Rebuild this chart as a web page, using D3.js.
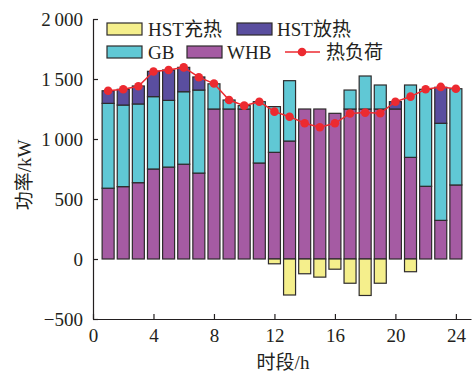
<!DOCTYPE html>
<html>
<head>
<meta charset="utf-8">
<script src="https://cdn.jsdelivr.net/npm/d3@7"></script>
<style>
  html, body { margin: 0; padding: 0; background: #fff; }
  svg text { font-family: "Liberation Serif", "Times New Roman", "Noto Sans CJK SC", serif; fill: #231f20; }
</style>
</head>
<body>
<svg id="chart" width="473" height="374"></svg>
<script>
// Hourly heat balance (kW)
const hours = d3.range(1, 25);
const whb = [590, 603, 636, 750, 766, 790, 716, 1250, 1250, 1250, 800, 889, 983, 1250, 1250, 1214, 1250, 1250, 1250, 1250, 847, 606, 322, 617];
const gb = [707, 680, 656, 603, 556, 604, 692, 210, 75, 28, 511, 381, 503, 0, 0, 0, 158, 275, 200, 0, 603, 808, 809, 802];
const hstDischarge = [105, 131, 150, 211, 253, 203, 109, 0, 0, 0, 0, 0, 0, 0, 0, 0, 0, 0, 0, 61, 0, 0, 300, 0];
const hstCharge = [0, 0, 0, 0, 0, 0, 0, 0, 0, 0, 0, -40, -300, -123, -151, -85, -202, -304, -202, 0, -106, 0, 0, 0];
const heatLoad = [1402, 1414, 1440, 1562, 1575, 1597, 1515, 1462, 1325, 1278, 1311, 1228, 1186, 1131, 1098, 1131, 1212, 1220, 1214, 1311, 1353, 1414, 1434, 1419];
const xTicks = [0, 4, 8, 12, 16, 20, 24];
const yTicks = [-500, 0, 500, 1000, 1500, 2000];
const yTickLabels = ["\u2212500", "0", "500", "1\u2009000", "1\u2009500", "2\u2009000"];

const colors = {
  charge: "#f5ef8c",
  discharge: "#5a4e9f",
  gb: "#60c8d5",
  whb: "#a55ba3",
  load: "#ec2a30",
  stroke: "#2e2b2c"
};

const svg = d3.select("#chart");
const x = d3.scaleLinear().domain([0, 25]).range([93, 471]);
const y = d3.scaleLinear().domain([-500, 2000]).range([319, 19]);
const barW = 12;

// Stacked segments per hour
const segments = [];
hours.forEach((h, i) => {
  segments.push({ h, y0: 0, y1: whb[i], c: colors.whb });
  if (gb[i] > 0) segments.push({ h, y0: whb[i], y1: whb[i] + gb[i], c: colors.gb });
  if (hstDischarge[i] > 0) segments.push({ h, y0: whb[i] + gb[i], y1: whb[i] + gb[i] + hstDischarge[i], c: colors.discharge });
  if (hstCharge[i] < 0) segments.push({ h, y0: hstCharge[i], y1: 0, c: colors.charge });
});

svg.append("g").selectAll("rect").data(segments).join("rect")
  .attr("x", d => x(d.h) - barW / 2)
  .attr("width", barW)
  .attr("y", d => y(Math.max(d.y0, d.y1)))
  .attr("height", d => Math.abs(y(d.y0) - y(d.y1)))
  .attr("fill", d => d.c)
  .attr("stroke", colors.stroke)
  .attr("stroke-width", 1.2);

// Axes (ticks point inward)
const xAxis = d3.axisBottom(x).tickValues(xTicks).tickSizeInner(-5).tickSizeOuter(0).tickPadding(10);
const gx = svg.append("g").attr("transform", `translate(0,${y(-500)})`).call(xAxis);
const yAxis = d3.axisLeft(y).tickValues(yTicks).tickSizeInner(-5).tickSizeOuter(0).tickPadding(10)
  .tickFormat((d, i) => yTickLabels[i]);
const gy = svg.append("g").attr("transform", `translate(${x(0)},0)`).call(yAxis);
[gx, gy].forEach(g => {
  g.select(".domain").attr("stroke", "#231f20").attr("stroke-width", 1.2);
  g.selectAll(".tick line").attr("stroke", "#231f20").attr("stroke-width", 1.2);
  g.selectAll(".tick text").attr("font-size", 19).attr("fill", "#231f20")
    .attr("font-family", "Liberation Serif, Times New Roman, serif");
});

// Heat load line
const line = d3.line().x((d, i) => x(hours[i])).y(d => y(d));
svg.append("path").datum(heatLoad)
  .attr("d", line).attr("fill", "none")
  .attr("stroke", colors.load).attr("stroke-width", 1.5);
svg.append("g").selectAll("circle").data(heatLoad).join("circle")
  .attr("cx", (d, i) => x(hours[i])).attr("cy", d => y(d))
  .attr("r", 4.3).attr("fill", colors.load);

// Axis titles
svg.append("text").attr("x", 283).attr("y", 369).attr("text-anchor", "middle")
  .attr("font-size", 19).text("时段/h");
svg.append("text").attr("transform", "translate(31,175) rotate(-90)").attr("text-anchor", "middle")
  .attr("font-size", 19).text("功率/kW");

// Legend
const legend = svg.append("g");
const legendItems = [
  { label: "HST充热", c: colors.charge, bx: 107, tx: 148, row: 0 },
  { label: "HST放热", c: colors.discharge, bx: 237, tx: 277, row: 0 },
  { label: "GB", c: colors.gb, bx: 107, tx: 148, row: 1 },
  { label: "WHB", c: colors.whb, bx: 187, tx: 227, row: 1 }
];
const rowY = [23, 46];
legendItems.forEach(it => {
  legend.append("rect").attr("x", it.bx).attr("y", rowY[it.row])
    .attr("width", 35).attr("height", 12)
    .attr("fill", it.c).attr("stroke", colors.stroke).attr("stroke-width", 1.2);
  legend.append("text").attr("x", it.tx).attr("y", rowY[it.row] + 12.5)
    .attr("font-size", 19).text(it.label);
});
legend.append("line").attr("x1", 285).attr("x2", 320).attr("y1", rowY[1] + 6).attr("y2", rowY[1] + 6)
  .attr("stroke", colors.load).attr("stroke-width", 1.5);
legend.append("circle").attr("cx", 302).attr("cy", rowY[1] + 6).attr("r", 4.3).attr("fill", colors.load);
legend.append("text").attr("x", 326).attr("y", rowY[1] + 12.5).attr("font-size", 19).text("热负荷");
</script>
</body>
</html>
